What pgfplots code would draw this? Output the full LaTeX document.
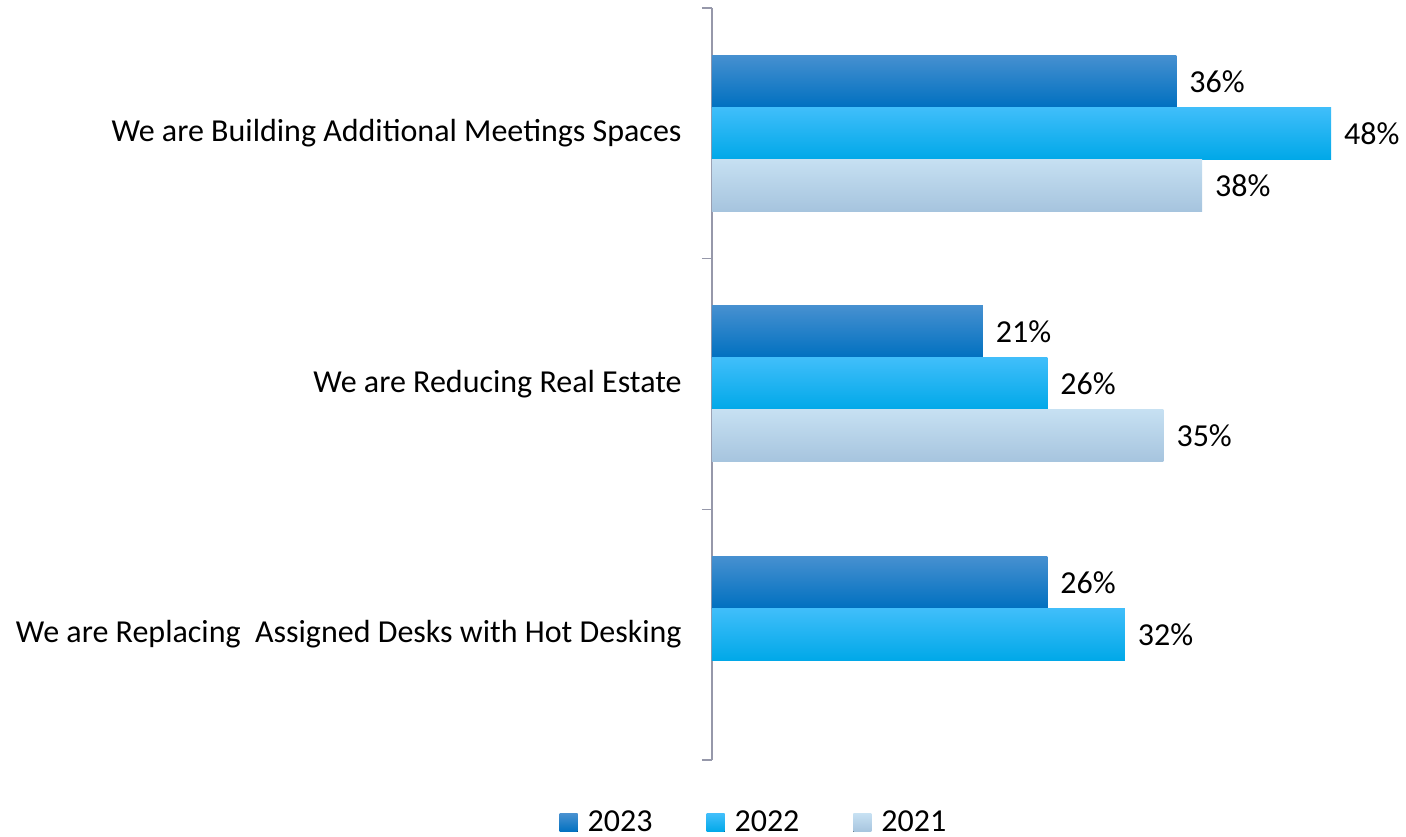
\documentclass[border=0pt]{standalone}
\usepackage{pgfplots}
\pgfplotsset{compat=1.18}
\usepackage{fontspec}
\setmainfont{Carlito}
\definecolor{a1}{RGB}{70,144,208}
\definecolor{a2}{RGB}{0,112,192}
\definecolor{b1}{RGB}{64,190,250}
\definecolor{b2}{RGB}{0,184,255}
\definecolor{b3}{RGB}{0,168,232}
\definecolor{c1}{RGB}{198,224,242}
\definecolor{c2}{RGB}{166,196,222}
\definecolor{axisgray}{RGB}{150,152,170}
\begin{document}
\begin{tikzpicture}[font=\fontsize{16pt}{19pt}\selectfont]
\begin{axis}[
  scale only axis, width=322.5pt, height=376pt,
  xbar, xmin=0, xmax=50, ymin=-0.5, ymax=2.5,
  bar width=26pt,
  axis x line=none, axis y line*=left,
  y axis line style={draw=axisgray, line width=0.7pt},
  ytick={0,1,2},
  yticklabels={We are Replacing~ Assigned Desks with Hot Desking, We are Reducing Real Estate, We are Building Additional Meetings Spaces},
  major tick length=0pt,
  minor ytick={-0.5,0.5,1.5,2.5}, minor tick length=5pt, tick align=outside,
  every tick/.style={axisgray, line width=0.7pt},
  yticklabel style={inner sep=0pt, xshift=-15pt},
  /pgf/number format/assume math mode=true,
  nodes near coords={\pgfmathprintnumber{\pgfplotspointmeta}\%},
  nodes near coords style={black, xshift=3pt},
  clip=false,
  legend columns=3,
  legend style={at={(rel axis cs:0.0667,-0.0838)}, anchor=center, draw=none,
    /tikz/every odd column/.append style={column sep=3pt},
    /tikz/every even column/.append style={column sep=25pt}},
  legend image code/.code={\fill[#1] (0pt,-4.5pt) rectangle (9pt,4.5pt);},
]
% 2023
\addplot[draw=none, top color=a1, bottom color=a2, bar shift=26pt] coordinates {(36,2)};
\addlegendentry{2023}
\addplot[forget plot, draw=none, top color=a1, bottom color=a2, bar shift=26pt] coordinates {(21,1)};
\addplot[forget plot, draw=none, top color=a1, bottom color=a2, bar shift=26pt] coordinates {(26,0)};
% 2022
\addplot[draw=none, top color=b1, middle color=b2, bottom color=b3, bar shift=0pt] coordinates {(48,2)};
\addlegendentry{2022}
\addplot[forget plot, draw=none, top color=b1, middle color=b2, bottom color=b3, bar shift=0pt] coordinates {(26,1)};
\addplot[forget plot, draw=none, top color=b1, middle color=b2, bottom color=b3, bar shift=0pt] coordinates {(32,0)};
% 2021
\addplot[draw=none, top color=c1, bottom color=c2, bar shift=-26pt] coordinates {(38,2)};
\addlegendentry{2021}
\addplot[forget plot, draw=none, top color=c1, bottom color=c2, bar shift=-26pt] coordinates {(35,1)};
\coordinate (bl) at (rel axis cs:-1.1039,-0.1024);
\coordinate (tr) at (rel axis cs:1.0760,1.0106);
\end{axis}
\pgfresetboundingbox
\useasboundingbox (bl) rectangle (tr);
\end{tikzpicture}
\end{document}
